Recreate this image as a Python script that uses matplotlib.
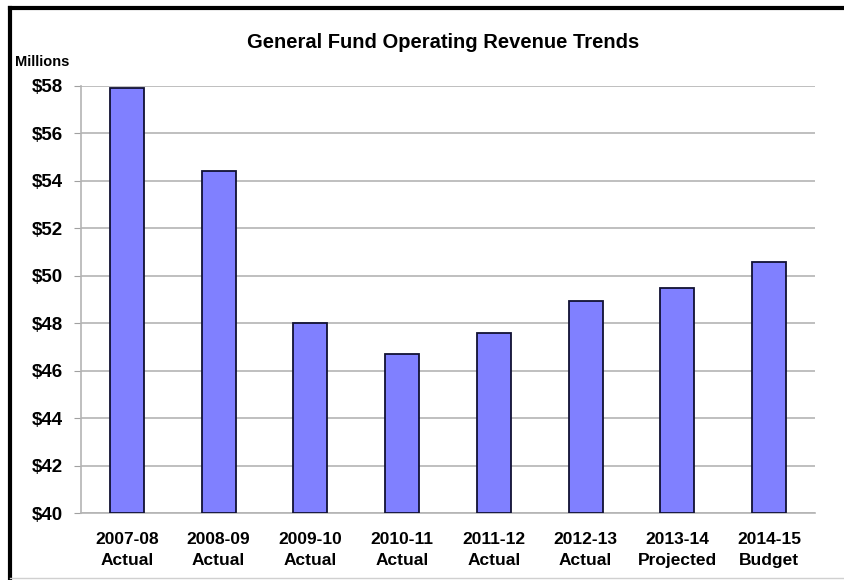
import matplotlib.pyplot as plt
from matplotlib.lines import Line2D

# General fund operating revenue, millions of dollars
years = ['2007-08', '2008-09', '2009-10', '2010-11', '2011-12', '2012-13', '2013-14', '2014-15']
kinds = ['Actual', 'Actual', 'Actual', 'Actual', 'Actual', 'Actual', 'Projected', 'Budget']
revenue = [57.9, 54.4, 48.0, 46.7, 47.6, 48.95, 49.5, 50.6]
yticks = [40, 42, 44, 46, 48, 50, 52, 54, 56, 58]

plt.rcParams['font.family'] = ['Liberation Sans', 'DejaVu Sans']
plt.rcParams['font.weight'] = 'bold'

fig = plt.figure(figsize=(8.44, 5.8), dpi=100)
ax = fig.add_axes([81 / 844, 1 - 513 / 580, (815 - 81) / 844, (513 - 86) / 580])

labels = [y + '\n' + k for y, k in zip(years, kinds)]
x = range(len(years))
ax.bar(x, [v - 40 for v in revenue], bottom=40, width=0.37,
       color='#8080ff', edgecolor='#111133', linewidth=1.3, zorder=3)

ax.set_xlim(-0.5, len(years) - 0.5)
ax.set_ylim(40, 58)
ax.set_yticks(yticks)
ax.set_yticklabels(['$%d' % t for t in yticks], fontsize=13.5, fontweight='bold')
ax.set_xticks(list(x))
ax.set_xticklabels(labels, fontsize=12.5, fontweight='bold', linespacing=1.5)
ax.tick_params(axis='x', length=0, pad=14)
ax.tick_params(axis='y', length=5, color='#a0a0a0', pad=8)
ax.grid(axis='y', color='#b4b4b4', linewidth=1.2, zorder=0)

for side in ['top', 'right']:
    ax.spines[side].set_visible(False)
for side in ['left', 'bottom']:
    ax.spines[side].set_color('#b4b4b4')
    ax.spines[side].set_linewidth(1.2)

fig.text(443 / 844, 1 - 42 / 580, 'General Fund Operating Revenue Trends',
         ha='center', va='center', fontsize=14.5, fontweight='bold')
fig.text(15 / 844, 1 - 62 / 580, 'Millions', ha='left', va='center',
         fontsize=10.5, fontweight='bold')

# frame: heavy top and left edges, faint bottom edge
fig.lines.append(Line2D([10 / 844, 1], [1 - 8 / 580, 1 - 8 / 580],
                        transform=fig.transFigure, color='black', linewidth=3))
fig.lines.append(Line2D([10 / 844, 10 / 844], [0, 1 - 8 / 580],
                        transform=fig.transFigure, color='black', linewidth=3))
fig.lines.append(Line2D([10 / 844, 1], [2 / 580, 2 / 580],
                        transform=fig.transFigure, color='#d0d0d0', linewidth=1))

plt.savefig('out.png', dpi=100)
